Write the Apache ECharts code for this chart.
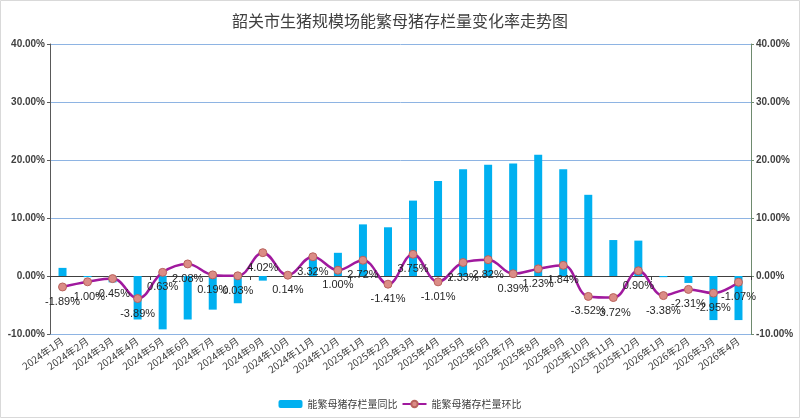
<!DOCTYPE html>
<html>
<head>
<meta charset="utf-8">
<script src="https://cdn.jsdelivr.net/npm/echarts@6/dist/echarts.min.js"></script>
<style>
  html, body { margin: 0; padding: 0; background: #fff; }
  #main { width: 800px; height: 418px; }
</style>
</head>
<body>
<div id="main"></div>
<script>
// 月份
var months = ['2024年1月','2024年2月','2024年3月','2024年4月','2024年5月','2024年6月','2024年7月','2024年8月','2024年9月','2024年10月','2024年11月','2024年12月',
  '2025年1月','2025年2月','2025年3月','2025年4月','2025年5月','2025年6月','2025年7月','2025年8月','2025年9月','2025年10月','2025年11月','2025年12月',
  '2026年1月','2026年2月','2026年3月','2026年4月'];
// 同比（柱）
var yoy = [1.4, -0.2, -1.1, -7.5, -9.2, -7.5, -5.8, -4.7, -0.8, 0.2, 3.6, 4.0,
  8.9, 8.4, 13.0, 16.4, 18.4, 19.2, 19.4, 20.9, 18.4, 14.0, 6.2, 6.1,
  -0.2, -1.2, -7.6, -7.6];
// 环比（线）
var mom = [-1.89, -1.00, -0.45, -3.89, 0.63, 2.08, 0.19, 0.03, 4.02, 0.14, 3.32, 1.00,
  2.72, -1.41, 3.75, -1.01, 2.33, 2.82, 0.39, 1.23, 1.84, -3.52, -3.72, 0.90,
  -3.38, -2.31, -2.95, -1.07];

var myChart = echarts.init(document.getElementById('main'));
var txt = '#404040';
var pctFmt = function (v) { return v.toFixed(2) + '%'; };

myChart.setOption({
  animation: false,
  title: {
    text: '韶关市生猪规模场能繁母猪存栏量变化率走势图',
    left: 'center',
    top: 8,
    textStyle: { fontSize: 16, fontWeight: 'normal', color: txt, fontFamily: 'Noto Sans CJK SC' }
  },
  graphic: [{
    type: 'rect',
    shape: { x: 0.5, y: 0.5, width: 799, height: 417 },
    style: { fill: 'none', stroke: '#d9d9d9', lineWidth: 1 },
    silent: true
  }],
  legend: {
    bottom: 4,
    left: 'center',
    itemWidth: 24,
    itemHeight: 8,
    itemGap: 4,
    textStyle: { fontSize: 10, color: txt, fontFamily: 'Noto Sans CJK SC' },
    data: ['能繁母猪存栏量同比', '能繁母猪存栏量环比']
  },
  grid: { left: 50, right: 49, top: 44, bottom: 84 },
  xAxis: [{
    type: 'category',
    data: months,
    axisLine: { show: false, onZero: false },
    axisTick: { show: false },
    axisLabel: { rotate: 35, fontSize: 10, color: txt, margin: 6, interval: 0, fontFamily: 'Noto Sans CJK SC' }
  }, {
    type: 'category',
    data: months,
    position: 'bottom',
    axisLine: { show: true, onZero: true, lineStyle: { color: '#404040', width: 1 } },
    axisTick: { show: true, length: 4, lineStyle: { color: '#404040' } },
    axisLabel: { show: false }
  }],
  yAxis: [{
    type: 'value',
    min: -10, max: 40, interval: 10,
    axisLine: { show: true, lineStyle: { color: '#595959' } },
    axisTick: { show: true, length: 3 },
    axisLabel: { formatter: pctFmt, fontSize: 10, fontWeight: 'bold', color: txt, margin: 5 },
    splitLine: { lineStyle: { color: '#8EB4E3', width: 1 } }
  }, {
    type: 'value',
    min: -10, max: 40, interval: 10,
    position: 'right',
    axisLine: { show: true, lineStyle: { color: '#6E8A6E' } },
    axisTick: { show: true, length: 3 },
    axisLabel: { formatter: pctFmt, fontSize: 10, fontWeight: 'bold', color: txt, margin: 5 },
    splitLine: { show: false }
  }],
  series: [{
    name: '能繁母猪存栏量同比',
    type: 'bar',
    barWidth: 8,
    itemStyle: { color: '#00B0F0' },
    data: yoy
  }, {
    name: '能繁母猪存栏量环比',
    type: 'line',
    yAxisIndex: 1,
    smooth: 0.4,
    symbol: 'circle',
    symbolSize: 8,
    lineStyle: { color: '#A0199E', width: 2.5 },
    itemStyle: { color: '#DB8C86', borderColor: '#B8625C', borderWidth: 1 },
    label: {
      show: true,
      position: 'bottom',
      fontSize: 11,
      color: '#262626',
      fontFamily: 'Liberation Sans',
      formatter: function (p) { return p.value.toFixed(2) + '%'; }
    },
    data: mom
  }]
});
</script>
</body>
</html>
